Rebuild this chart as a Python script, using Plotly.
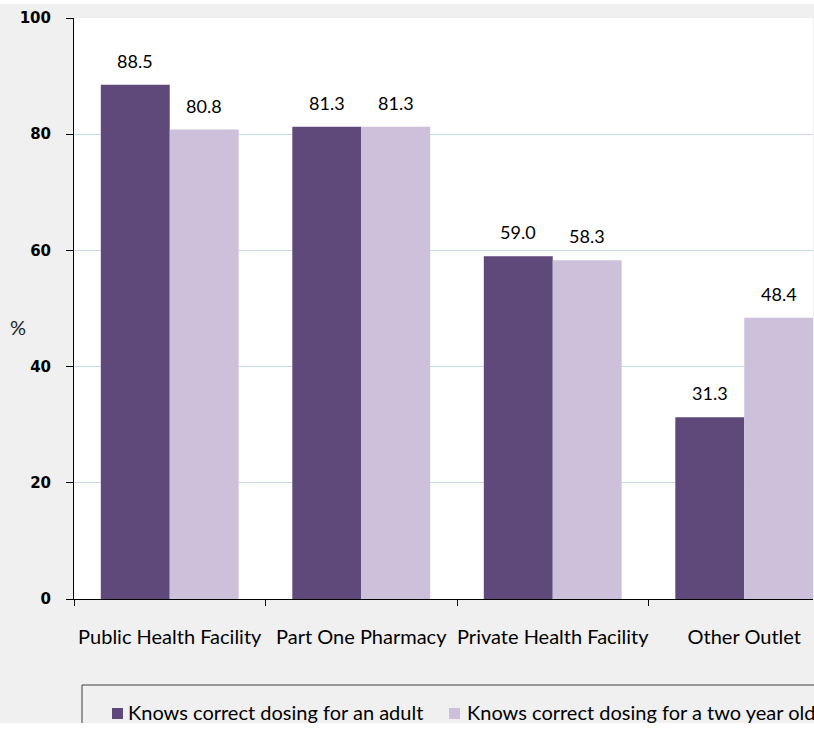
import plotly.graph_objects as go

categories = ["Public Health Facility", "Part One Pharmacy", "Private Health Facility", "Other Outlet"]
adult_values = [88.5, 81.3, 59.0, 31.3]
child_values = [80.8, 81.3, 58.3, 48.4]
series_names = ["Knows correct dosing for an adult", "Knows correct dosing for a two year old"]
y_ticks = [0, 20, 40, 60, 80, 100]

DARK = "#5f497a"
LIGHT = "#ccc0da"
GRAY = "#f0f0f0"
FONT = "Lato"

W, H = 814, 729
ML, MR, MT, MB = 74, 1, 18, 130
PW = W - ML - MR
PH = H - MT - MB


def px_x(p):
    return (p - ML) / PW


def px_y(p):
    return (H - MB - p) / PH


fig = go.Figure()
colors = [DARK, LIGHT]
for name, vals, col in zip(series_names, [adult_values, child_values], colors):
    fig.add_trace(go.Bar(x=categories, y=vals, name=name,
                         marker=dict(color=col, line=dict(width=0))))

annotations = []
for i, (a, c) in enumerate(zip(adult_values, child_values)):
    for off, v in ((-0.18, a), (0.18, c)):
        annotations.append(dict(x=i + off, y=v, xref="x", yref="y", text=f"{v:.1f}",
                                showarrow=False, yanchor="middle", yshift=24,
                                font=dict(family=FONT, size=18, color="#000000")))
annotations.append(dict(x=px_x(18), y=px_y(327), xref="paper", yref="paper", text="%",
                        showarrow=False, xanchor="center", yanchor="middle",
                        font=dict(family=FONT, size=20, color="#222222")))

# manual legend (the reference legend is cropped by the picture edge)
shapes = [
    dict(type="rect", xref="paper", yref="paper", x0=px_x(82), x1=px_x(W + 40),
         y0=px_y(H + 40), y1=px_y(685), fillcolor="rgba(0,0,0,0)",
         line=dict(color="#404040", width=1), layer="above"),
]
legend_marker_x = [112, 449]
legend_text_x = [126, 465]
for name, col, mx, tx in zip(series_names, colors, legend_marker_x, legend_text_x):
    shapes.append(dict(type="rect", xref="paper", yref="paper", x0=px_x(mx), x1=px_x(mx + 11),
                       y0=px_y(719), y1=px_y(708), fillcolor=col, line=dict(width=0),
                       layer="above"))
    annotations.append(dict(x=px_x(tx), y=px_y(712), xref="paper", yref="paper", text=name,
                            showarrow=False, xanchor="left", yanchor="middle",
                            font=dict(family=FONT, size=20, color="#000000")))

# white rim of the cropped picture
shapes.append(dict(type="rect", xref="paper", yref="paper", x0=px_x(-5), x1=px_x(W + 5),
                   y0=px_y(4), y1=px_y(-5), fillcolor="#ffffff", line=dict(width=0),
                   layer="above"))
shapes.append(dict(type="rect", xref="paper", yref="paper", x0=px_x(-5), x1=px_x(W + 5),
                   y0=px_y(H + 5), y1=px_y(723), fillcolor="#ffffff", line=dict(width=0),
                   layer="above"))

fig.update_layout(
    width=W, height=H,
    margin=dict(l=ML, r=MR, t=MT, b=MB, autoexpand=False),
    paper_bgcolor=GRAY, plot_bgcolor="#ffffff",
    barmode="group", bargap=0.28, bargroupgap=0,
    showlegend=False,
    xaxis=dict(type="category", range=[-0.5, -0.5 + PW / 191.5],
               showline=True, linecolor="#000000", linewidth=1,
               ticks="outside", tickson="boundaries", ticklen=6, tickcolor="#000000",
               showgrid=False, ticklabelstandoff=20, tickangle=0,
               tickfont=dict(family=FONT, size=20, color="#000000")),
    yaxis=dict(range=[0, 100], tickvals=y_ticks, showline=True, linecolor="#000000",
               linewidth=1, ticks="outside", ticklen=7, tickcolor="#000000",
               showgrid=True, gridcolor="#c6d9f0", gridwidth=1, zeroline=False,
               ticklabelstandoff=12,
               tickfont=dict(family="DejaVu Sans", size=15, color="#000000", weight="bold")),
    annotations=annotations,
    shapes=shapes,
)
fig.write_html("out.html")
